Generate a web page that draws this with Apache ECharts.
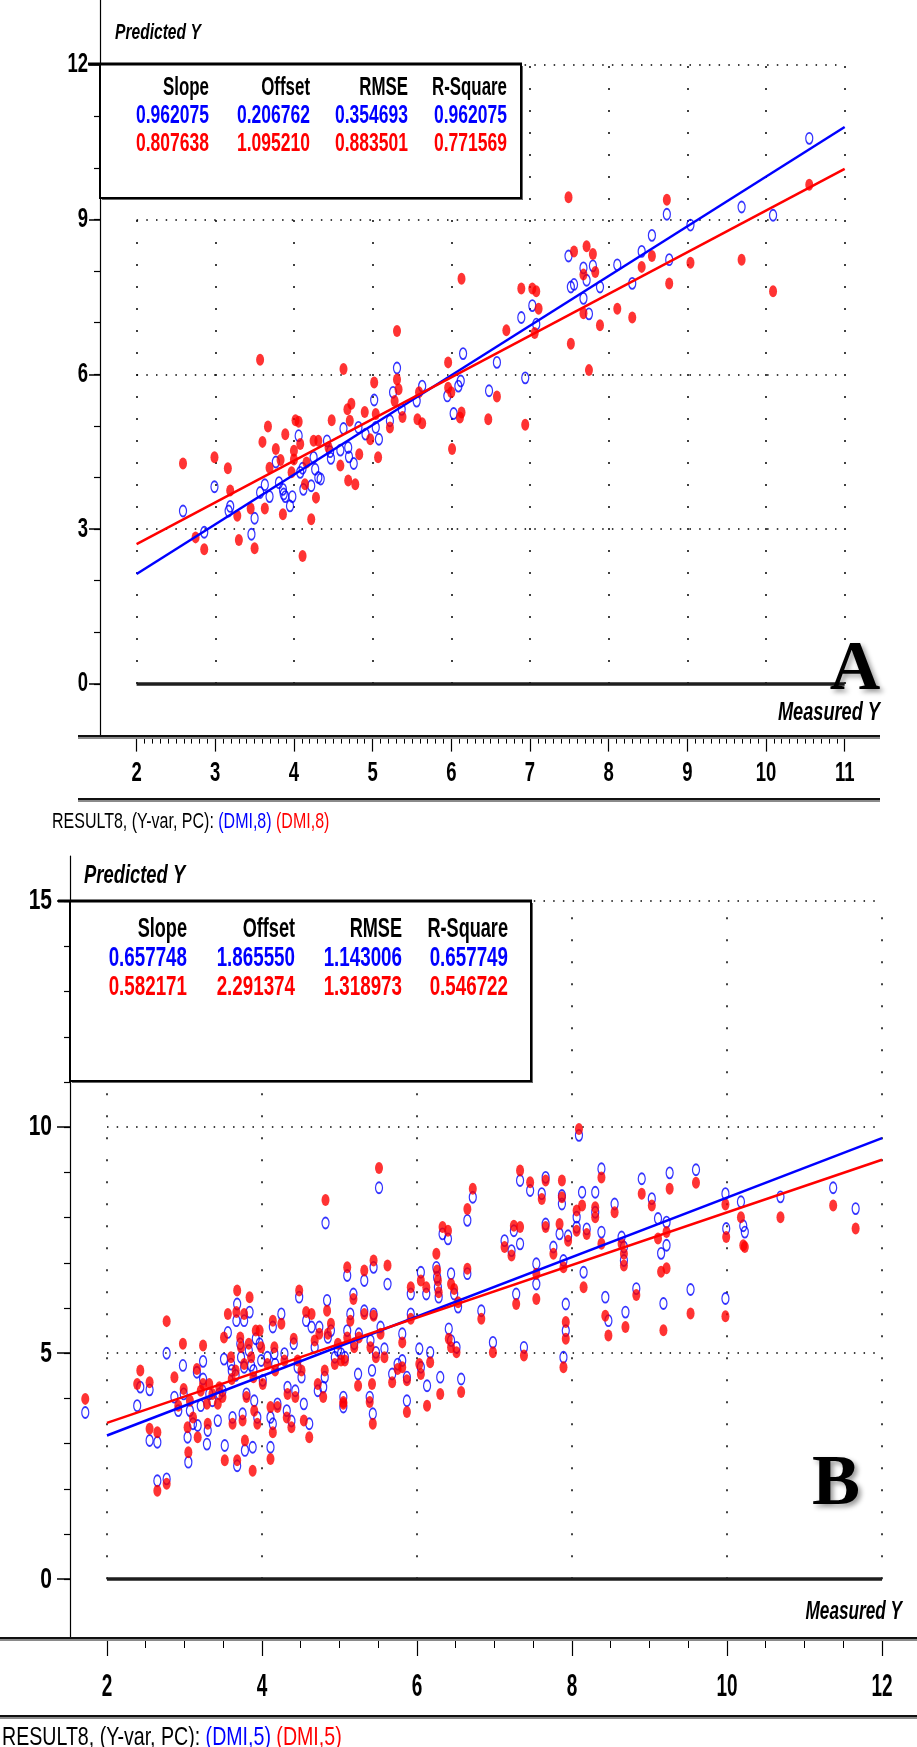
<!DOCTYPE html>
<html>
<head>
<meta charset="utf-8">
<script src="https://cdn.jsdelivr.net/npm/echarts@6/dist/echarts.min.js"></script>
<style>
  html, body { margin: 0; padding: 0; background: #fff; }
  #chart { width: 917px; height: 1747px; }
</style>
</head>
<body>
<div id="chart"></div>
<script>
const SANS = '"Liberation Sans", Arial, sans-serif';

// stats tables
const statHeaders = ['Slope', 'Offset', 'RMSE', 'R-Square'];
const statsBlueA = ['0.962075', '0.206762', '0.354693', '0.962075'];
const statsRedA = ['0.807638', '1.095210', '0.883501', '0.771569'];
const statsBlueB = ['0.657748', '1.865550', '1.143006', '0.657749'];
const statsRedB = ['0.582171', '2.291374', '1.318973', '0.546722'];

// axis labels
const xLabelsA = [2, 3, 4, 5, 6, 7, 8, 9, 10, 11];
const yLabelsA = [0, 3, 6, 9, 12];
const xLabelsB = [2, 4, 6, 8, 10, 12];
const yLabelsB = [0, 5, 10, 15];

// fitted lines (end points)
const fitBlueA = [[2, 2.13], [11, 10.79]];
const fitRedA = [[2, 2.71], [11, 9.98]];
const fitBlueB = [[2, 3.18], [12, 9.76]];
const fitRedB = [[2, 3.46], [12, 9.28]];

// panel A points [measured, predicted]
const blueA = [
  [2.59,3.35],[2.86,2.94],[2.99,3.82],[3.17,3.35],[3.19,3.44],[3.46,2.90],[3.50,3.21],[3.57,3.71],
  [3.63,3.86],[3.69,3.63],[3.77,4.30],[3.81,3.90],[3.86,3.77],[3.87,3.68],[3.89,3.63],[3.95,3.45],
  [3.98,3.63],[4.06,4.81],[4.08,4.10],[4.11,4.18],[4.12,3.77],[4.22,3.84],[4.25,4.39],[4.27,4.16],
  [4.31,4.00],[4.34,3.97],[4.42,4.71],[4.46,4.50],[4.47,4.37],[4.59,4.53],[4.63,4.95],[4.69,4.58],
  [4.70,4.40],[4.76,4.27],[4.82,4.97],[4.91,4.84],[5.02,5.50],[5.04,4.97],[5.08,4.74],[5.22,5.10],
  [5.26,5.65],[5.31,6.12],[5.37,5.32],[5.56,5.48],[5.63,5.77],[5.95,5.58],[6.03,5.24],[6.09,5.77],
  [6.12,5.87],[6.15,6.40],[6.48,5.68],
  [10.55,10.57],[9.69,9.24],[10.09,9.08],[9.04,8.89],[8.74,9.10],[8.55,8.69],[8.42,8.38],[8.77,8.22],
  [8.30,7.76],[8.11,8.12],[7.89,7.69],[7.80,8.10],[7.68,8.06],[7.72,7.82],[7.49,8.29],[7.52,7.69],
  [7.56,7.74],[7.68,7.47],[7.75,7.17],[7.03,7.33],[7.08,6.97],[6.89,7.10],[6.58,6.23],[6.94,5.93]
];
const redA = [
  [2.59,4.27],[2.75,2.84],[2.86,2.61],[2.99,4.39],[3.16,4.18],[3.19,3.75],[3.28,3.26],[3.30,2.79],
  [3.45,3.40],[3.50,2.63],[3.57,6.28],[3.60,4.69],[3.63,3.40],[3.67,4.99],[3.69,4.19],[3.77,4.55],
  [3.83,4.34],[3.86,3.29],[3.89,4.84],[3.97,4.10],[4.00,4.52],[4.00,4.35],[4.02,5.11],[4.06,5.08],
  [4.08,4.65],[4.11,2.48],[4.14,3.87],[4.16,4.29],[4.22,3.19],[4.25,4.71],[4.28,3.61],[4.31,4.71],
  [4.44,4.58],[4.48,5.11],[4.59,4.23],[4.63,6.10],[4.68,5.32],[4.69,3.94],[4.71,5.10],[4.73,5.43],
  [4.78,3.87],[4.83,4.45],[4.90,5.27],[4.97,4.74],[5.02,5.84],[5.04,5.23],[5.07,4.39],[5.22,4.97],
  [5.31,6.84],[5.31,5.90],[5.33,5.71],[5.28,5.48],[5.38,5.17],[5.57,5.13],[5.63,5.05],[5.59,5.65],
  [5.96,6.23],[5.96,5.74],[6.00,5.65],[6.01,4.55],[6.11,5.16],[6.13,5.26],[6.47,5.13],[6.13,7.85],
  [7.49,9.43],[7.56,8.38],[7.72,8.48],[7.80,8.33],[7.68,7.93],[7.83,7.98],[6.89,7.66],[7.03,7.66],
  [7.08,7.61],[7.11,7.27],[6.70,6.85],[7.06,6.80],[7.68,7.18],[7.89,6.95],[8.11,7.27],[8.30,7.10],
  [7.52,6.59],[7.75,6.08],[8.42,8.08],[8.55,8.29],[8.74,9.38],[8.77,7.76],[9.04,8.16],[9.69,8.22],
  [10.09,7.61],[10.55,9.67],[6.58,5.57],[6.94,5.02]
];

// panel B samples [measured, predicted red, predicted blue]
const samplesB = [
  [1.72,3.99,3.69],[2.43,4.62,4.25],[2.39,4.32,3.84],[2.55,4.36,4.19],[2.55,3.33,3.07],[2.65,3.25,3.03],
  [2.65,1.96,2.18],[2.77,2.11,2.22],[2.77,5.71,5.00],[2.87,4.47,4.03],[2.92,3.84,3.73],[2.98,5.21,4.73],
  [2.99,4.21,4.10],[3.04,3.36,3.14],[3.05,2.81,2.59],[3.07,3.95,3.73],[3.11,3.58,3.44],[3.16,4.65,4.58],
  [3.17,3.14,3.40],[3.21,4.17,3.84],[3.24,5.17,4.82],[3.24,4.32,4.43],[3.29,3.88,2.99],[3.32,4.32,4.10],
  [3.30,3.44,3.29],[3.36,4.10,3.95],[3.43,3.88,3.51],[3.45,4.25,4.10],[3.49,4.03,4.17],[3.51,5.35,4.87],
  [3.52,2.63,2.96],[3.56,5.87,5.46],[3.60,4.91,4.76],[3.61,4.43,4.62],[3.62,3.44,3.58],[3.66,4.62,4.51],
  [3.68,6.39,6.09],[3.67,5.91,5.72],[3.68,2.63,2.51],[3.72,5.35,5.21],[3.73,5.13,4.91],[3.77,5.87,5.72],
  [3.75,3.51,3.66],[3.77,4.76,4.69],[3.78,3.07,2.85],[3.80,4.03,4.10],[3.83,5.21,5.06],[3.84,6.24,5.91],
  [3.86,4.91,4.73],[3.88,2.40,2.92],[3.89,4.47,4.62],[3.90,3.73,3.95],[3.92,5.50,5.32],[3.97,5.50,5.21],
  [3.94,3.44,3.58],[3.99,5.13,4.84],[4.01,4.32,4.40],[4.07,4.76,4.91],[4.11,2.66,2.92],[4.11,3.81,3.58],
  [4.14,5.72,5.58],[4.14,3.25,3.44],[4.16,5.13,4.99],[4.17,4.62,4.76],[4.20,3.81,3.88],[4.25,5.65,5.87],
  [4.29,4.84,4.99],[4.33,4.10,4.25],[4.32,3.58,3.73],[4.38,3.36,3.50],[4.41,5.32,5.21],[4.43,4.03,4.17],
  [4.46,4.84,4.69],[4.48,6.39,6.24],[4.51,4.62,4.47],[4.54,3.51,3.88],[4.57,5.91,5.72],[4.64,5.87,5.58],
  [4.61,3.14,3.44],[4.68,5.28,5.13],[4.72,4.32,4.17],[4.74,5.43,5.58],[4.79,4.03,4.25],[4.81,4.62,4.47],
  [4.84,5.94,6.17],[4.85,5.43,5.35],[4.89,5.65,5.50],[4.94,4.76,4.91],[4.98,5.21,5.06],[5.05,3.92,3.81],
  [5.07,4.84,4.91],[4.82,8.39,7.88],
  [5.02,4.84,4.99],[5.05,3.88,4.03],[5.10,6.90,6.72],[5.14,5.72,5.87],[5.10,5.35,5.50],[5.18,6.20,6.31],
  [5.19,5.13,5.21],[5.24,4.28,4.54],[5.25,5.35,5.43],[5.32,6.83,6.61],[5.32,5.87,5.94],[5.40,5.13,5.28],
  [5.42,4.32,4.62],[5.39,3.92,4.03],[5.43,3.44,3.66],[5.44,7.05,6.90],[5.44,5.83,5.87],[5.47,4.91,5.02],
  [5.51,9.10,8.66],[5.53,5.43,5.58],[5.58,4.91,5.10],[5.62,6.94,6.53],[5.68,4.36,4.54],[5.75,4.65,4.76],
  [5.81,5.24,5.43],[5.81,4.69,4.84],[5.87,3.70,3.95],[5.87,4.40,4.47],[5.92,6.46,6.31],[5.92,5.76,5.87],
  [6.05,6.61,6.79],[6.12,6.46,6.31],[6.03,4.76,5.10],[6.05,4.54,4.69],[6.13,3.84,4.28],[6.17,4.80,5.02],
  [6.25,7.20,6.90],[6.26,6.83,6.68],[6.27,6.61,6.46],[6.28,6.35,6.24],[6.30,4.10,4.47],[6.33,7.79,7.64],
  [6.40,7.71,7.53],[6.41,5.32,5.54],[6.44,6.53,6.76],[6.48,6.42,6.31],[6.53,6.13,6.02],[6.44,5.13,5.28],
  [6.51,5.02,5.13],[6.57,4.14,4.43],[6.65,8.19,7.94],[6.72,8.64,8.45],[6.65,6.87,6.76],[6.83,5.76,5.94],
  [6.98,5.02,5.24],[7.13,7.35,7.49],[7.22,7.16,7.27],[7.25,7.82,7.71],[7.33,7.79,7.42],[7.33,9.04,8.82],
  [7.38,4.95,5.13],[7.46,8.78,8.60],[7.28,6.09,6.31],[7.54,6.76,6.98],[7.54,6.20,6.53],[7.61,8.41,8.53],
  [7.66,8.82,8.89],[7.66,7.79,7.86],[7.76,7.20,7.35],[7.84,7.86,7.64],[7.87,8.82,8.49],[7.87,8.45,8.30],
  [7.89,6.90,7.05],[7.89,4.69,4.91],[7.92,5.69,6.09],[7.92,5.32,5.50],[7.95,7.49,7.60],[8.06,8.16,8.01],
  [8.06,7.71,7.79],[8.09,9.96,9.82],[8.13,8.27,8.56],[8.15,6.46,6.79],[8.19,7.64,7.75],[8.30,8.23,8.56],
  [8.30,8.01,8.12],[8.38,8.89,9.08],[8.38,7.42,7.68],[8.43,5.83,6.24],[8.47,5.39,5.72],[8.55,8.12,8.30],
  [8.64,7.42,7.57],[8.67,7.20,7.35],[8.67,6.94,7.05],[8.69,5.58,5.91],
  [8.83,6.29,6.43],[8.90,8.53,8.86],[9.03,8.27,8.42],[9.11,7.54,7.98],[9.22,7.68,7.90],[9.15,6.80,7.21],
  [9.22,6.88,7.39],[9.18,5.51,6.10],[9.26,8.64,8.99],[9.53,5.88,6.41],[9.60,8.77,9.06],[9.98,8.29,8.53],
  [9.99,7.57,7.76],[9.98,5.82,6.21],[10.18,8.01,8.35],[10.21,7.39,7.82],[10.23,7.35,7.68],[10.69,8.01,8.46],
  [11.37,8.27,8.66],[11.66,7.76,8.20]
];
const redB = samplesB.map((s) => [s[0], s[1]]);
const blueB = samplesB.map((s) => [s[0], s[2]]);

// minor tick positions
const minorXA = [];
for (let v = 20; v <= 110; v++) minorXA.push(v / 10);
const minorYA = [];
for (let v = 0; v <= 12; v++) minorYA.push(v);
const minorXB = [];
for (let v = 4; v <= 24; v++) minorXB.push(v / 2);
const minorYB = [];
for (let v = 0; v <= 15; v++) minorYB.push(v);

const ELLIPSE = 'path://M5,0A5,5 0 1,1 5,10A5,5 0 1,1 5,0Z';
const RANGE_A = { xMin: 1.535, xMax: 11.5, yMin: -1, yMax: 13.25 };
const RANGE_B = { xMin: 1.523, xMax: 12.4, yMin: -1.3, yMax: 16 };

function xAxes(grid, r, labels, minor, majorLen, minorLen) {
  return [
    {
      gridIndex: grid, type: 'value', position: 'bottom', min: r.xMin, max: r.xMax,
      axisLine: { show: false, onZero: false },
      splitLine: { show: false },
      axisTick: { show: true, customValues: labels, length: majorLen, lineStyle: { color: '#000', width: 1.2 } },
      axisLabel: { show: false },
    },
    {
      gridIndex: grid, type: 'value', position: 'bottom', min: r.xMin, max: r.xMax,
      axisLine: { show: false, onZero: false },
      splitLine: { show: false },
      axisTick: { show: true, customValues: minor, length: minorLen, lineStyle: { color: '#000', width: 1 } },
      axisLabel: { show: false },
    },
  ];
}

function yAxes(grid, r, labels, minor, majorLen, minorLen) {
  return [
    {
      gridIndex: grid, type: 'value', position: 'left', min: r.yMin, max: r.yMax,
      axisLine: { show: true, onZero: false, lineStyle: { color: '#000', width: 1.2 } },
      splitLine: { show: false },
      axisTick: { show: true, customValues: labels, length: majorLen, lineStyle: { color: '#000', width: 1.5 } },
      axisLabel: { show: false },
    },
    {
      gridIndex: grid, type: 'value', position: 'left', min: r.yMin, max: r.yMax,
      axisLine: { show: false, onZero: false },
      splitLine: { show: false },
      axisTick: { show: true, customValues: minor, length: minorLen, lineStyle: { color: '#000', width: 1.2 } },
      axisLabel: { show: false },
    },
  ];
}

function panelSeries(xi, yi, xLabels, yLabels, blue, red, fitBlue, fitRed) {
  const x0 = xLabels[0];
  const x1 = xLabels[xLabels.length - 1];
  const yTop = yLabels[yLabels.length - 1];
  return [
    {
      type: 'lines', coordinateSystem: 'cartesian2d', xAxisIndex: xi, yAxisIndex: yi, silent: true,
      lineStyle: { color: '#000', width: 1.5, opacity: 1, type: [2, 20] },
      data: xLabels.map((x) => ({ coords: [[x, 0], [x, yTop]] })),
    },
    {
      type: 'lines', coordinateSystem: 'cartesian2d', xAxisIndex: xi, yAxisIndex: yi, silent: true,
      lineStyle: { color: '#000', width: 1.5, opacity: 1, type: [1.5, 8.2] },
      data: yLabels.slice(1).map((y) => ({ coords: [[x0, y], [x1, y]] })),
    },
    {
      type: 'lines', coordinateSystem: 'cartesian2d', xAxisIndex: xi, yAxisIndex: yi, silent: true,
      lineStyle: { color: '#1e1e1e', width: 3.5, opacity: 1 },
      data: [{ coords: [[x0, 0], [x1, 0]] }],
    },
    {
      type: 'scatter', xAxisIndex: xi, yAxisIndex: yi, data: blue,
      symbol: ELLIPSE, symbolSize: [7, 11],
      itemStyle: { color: 'rgba(0,0,0,0)', borderColor: '#0000ff', borderWidth: 1.5 },
    },
    {
      type: 'scatter', xAxisIndex: xi, yAxisIndex: yi, data: red,
      symbol: ELLIPSE, symbolSize: [8, 12],
      itemStyle: { color: '#ff0000' },
    },
    {
      type: 'line', xAxisIndex: xi, yAxisIndex: yi, data: fitBlue, showSymbol: false, z: 5,
      lineStyle: { color: '#0000ff', width: 2.5 },
    },
    {
      type: 'line', xAxisIndex: xi, yAxisIndex: yi, data: fitRed, showSymbol: false, z: 5,
      lineStyle: { color: '#ff0000', width: 2.5 },
    },
  ];
}

// tall narrow text: w sets the width, h the height
function txt(text, x, y, w, h, opts) {
  return {
    type: 'text', z: 110, x: x, y: y, scaleY: h / w,
    style: Object.assign({
      text: text, x: 0, y: 0, fontSize: w, fontFamily: SANS, fill: '#000',
      fontWeight: 'bold', align: 'left', verticalAlign: 'middle',
    }, opts || {}),
  };
}

function statsBox(left, top, width, height, colRights, rowYs, blue, red, w, h) {
  const els = [
    { type: 'rect', z: 100, shape: { x: left + 2, y: top + 2, width: width, height: height }, style: { fill: '#666' } },
    { type: 'rect', z: 101, shape: { x: left, y: top, width: width, height: height }, style: { fill: '#fff', stroke: '#000', lineWidth: 2 } },
    { type: 'line', z: 102, shape: { x1: left - 12, y1: top, x2: left + width + 1, y2: top }, style: { stroke: '#000', lineWidth: 3 } },
  ];
  const rows = [[statHeaders, '#000', w * 0.965], [blue, '#0000ff', w], [red, '#ff0000', w]];
  rows.forEach(([vals, color, size], r) => {
    vals.forEach((t, c) => {
      els.push(txt(t, colRights[c], rowYs[r], size, h, { fill: color, align: 'right' }));
    });
  });
  return els;
}

function bar(x1, x2, y) {
  return [
    { type: 'line', z: 90, shape: { x1: x1, y1: y, x2: x2, y2: y }, style: { stroke: '#111', lineWidth: 2 } },
    { type: 'line', z: 90, shape: { x1: x1, y1: y + 2, x2: x2, y2: y + 2 }, style: { stroke: '#8a8a8a', lineWidth: 2 } },
  ];
}

function bigLetter(text, x, y, size) {
  return {
    type: 'text', z: 110,
    style: {
      text: text, x: x, y: y, fontSize: size, fontWeight: 'bold',
      fontFamily: '"Liberation Serif", "DejaVu Serif", serif', fill: '#000',
      align: 'center', verticalAlign: 'middle',
      textShadowColor: 'rgba(0,0,0,0.4)', textShadowBlur: 5, textShadowOffsetX: 3, textShadowOffsetY: 3,
    },
  };
}

function caption(tag, x, y, w, h) {
  const el = txt('{k|RESULT8, (Y-var, PC): }{b|' + tag + '} {r|' + tag + '}', x, y, w, h, { fontWeight: 'normal' });
  el.style.rich = {
    k: { fontSize: w, fontFamily: SANS, fill: '#000' },
    b: { fontSize: w, fontFamily: SANS, fill: '#0000ff' },
    r: { fontSize: w, fontFamily: SANS, fill: '#ff0000' },
  };
  return el;
}

const option = {
  animation: false,
  backgroundColor: '#fff',
  grid: [
    { left: 100, top: 0, width: 784, height: 735.6 },
    { left: 70, top: 856, width: 843, height: 782 },
  ],
  xAxis: [].concat(
    xAxes(0, RANGE_A, xLabelsA, minorXA, 16, 8),
    xAxes(1, RANGE_B, xLabelsB, minorXB, 18, 10)
  ),
  yAxis: [].concat(
    yAxes(0, RANGE_A, yLabelsA, minorYA, 11, 6),
    yAxes(1, RANGE_B, yLabelsB, minorYB, 13, 6)
  ),
  series: [].concat(
    panelSeries(0, 0, xLabelsA, yLabelsA, blueA, redA, fitBlueA, fitRedA),
    panelSeries(2, 2, xLabelsB, yLabelsB, blueB, redB, fitBlueB, fitRedB)
  ),
};

const chart = echarts.init(document.getElementById('chart'));
chart.setOption(option);

// tick labels placed through the axes' own scales
function tickLabels(xi, yi, r, xLabels, yLabels, xOffset, yGap, wx, hx, wy, hy) {
  const out = [];
  const baseY = chart.convertToPixel({ yAxisIndex: yi }, r.yMin);
  const axisX = chart.convertToPixel({ xAxisIndex: xi }, r.xMin);
  xLabels.forEach((v) => {
    out.push(txt(String(v), chart.convertToPixel({ xAxisIndex: xi }, v), baseY + xOffset, wx, hx, { align: 'center' }));
  });
  yLabels.forEach((v) => {
    out.push(txt(String(v), axisX - yGap, chart.convertToPixel({ yAxisIndex: yi }, v), wy, hy, { align: 'right' }));
  });
  return out;
}

const graphics = [].concat(
  statsBox(100, 64, 421, 134, [209, 310, 408, 507], [88, 116, 144], statsBlueA, statsRedA, 17.5, 25),
  statsBox(70, 901, 461, 180, [187, 295, 402, 508], [930, 959, 988], statsBlueB, statsRedB, 18.8, 27),
  bar(78, 880, 736), bar(78, 880, 799),
  bar(0, 917, 1638), bar(0, 917, 1716),
  tickLabels(0, 0, RANGE_A, xLabelsA, yLabelsA, 38, 12, 18.5, 28, 18.5, 27),
  tickLabels(2, 2, RANGE_B, xLabelsB, yLabelsB, 49, 18, 19, 32, 21, 30),
  [
    txt('Predicted Y', 115, 33, 15.6, 22, { fontStyle: 'italic' }),
    txt('Predicted Y', 84, 876, 18.4, 25, { fontStyle: 'italic' }),
    txt('Measured Y', 880, 713, 18.2, 26, { fontStyle: 'italic', align: 'right' }),
    txt('Measured Y', 902, 1612, 17.2, 25, { fontStyle: 'italic', align: 'right' }),
    bigLetter('A', 855, 671, 70),
    bigLetter('B', 836, 1485, 72),
    caption('(DMI,8)', 52, 822, 16, 22),
    caption('(DMI,5)', 2, 1738, 19.6, 26),
  ]
);

chart.setOption({ graphic: { elements: graphics } });
</script>
</body>
</html>
